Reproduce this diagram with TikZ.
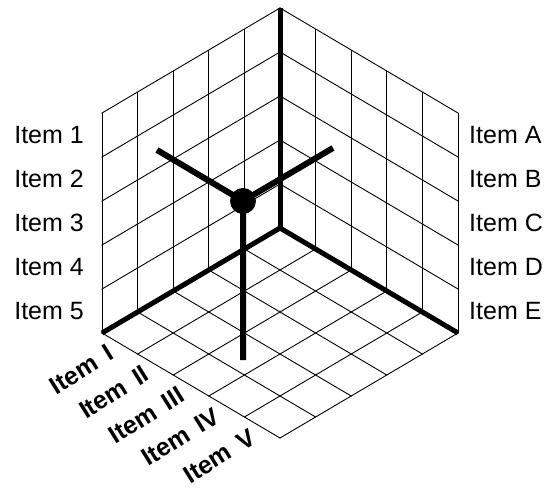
\documentclass[tikz,border=0pt]{standalone}
\usepackage{fontspec}
\setmainfont{Liberation Sans}
\begin{document}
\begin{tikzpicture}[x=1pt,y=-1pt,
  gridline/.style={line width=0.9pt,line cap=rect},
  axisline/.style={line width=5pt},
  armline/.style={line width=6pt},
  lbl/.style={inner sep=0pt,font=\fontsize{25}{25}\selectfont},
  flbl/.style={inner sep=0pt,font=\fontsize{25}{25}\selectfont\bfseries,rotate=32,anchor=east}]
\useasboundingbox (0,0) rectangle (547,490);
\fill[white] (0,0) rectangle (547,490);
% grids
\foreach \i in {0,...,5} {
  % left wall
  \draw[gridline] ({280-35.6*\i},{228+21*\i}) -- ++(0,-220);
  \draw[gridline] (280,{228-44*\i}) -- ++(-178,105);
  % right wall
  \draw[gridline] ({280+35.6*\i},{228+21*\i}) -- ++(0,-220);
  \draw[gridline] (280,{228-44*\i}) -- ++(178,105);
  % floor
  \draw[gridline] ({280+35.6*\i},{228+21*\i}) -- ++(-178,105);
  \draw[gridline] ({280-35.6*\i},{228+21*\i}) -- ++(178,105);
}
% axes
\coordinate (O) at (280,228);
\coordinate (T) at (280,8);
\coordinate (L) at (102,333);
\coordinate (R) at (458,333);
\draw[axisline] (O) -- (T);
\draw[axisline,line join=round] (L) -- (O) -- (R);
% data point
\coordinate (B) at (243,201);
\coordinate (BL) at (157,150);
\coordinate (BR) at (333,148);
\coordinate (BD) at (243,360);
\draw[armline,line join=round] (BL) -- (B) -- (BR) (B) -- (BD);
\fill (B) circle (13);
% left labels
\node[lbl,anchor=east] (l1) at (84,135) {Item 1};
\node[lbl,anchor=east] (l2) at (84,179) {Item 2};
\node[lbl,anchor=east] (l3) at (84,223) {Item 3};
\node[lbl,anchor=east] (l4) at (84,267) {Item 4};
\node[lbl,anchor=east] (l5) at (84,311) {Item 5};
% right labels
\node[lbl,anchor=west] (ra) at (469,135) {Item A};
\node[lbl,anchor=west] (rb) at (469,179) {Item B};
\node[lbl,anchor=west] (rc) at (469,223) {Item C};
\node[lbl,anchor=west] (rd) at (469,267) {Item D};
\node[lbl,anchor=west] (re) at (469,311) {Item E};
% floor labels
\node[flbl] (f1) at (111,351) {Item\, I};
\node[flbl] (f2) at (146.5,372) {Item\, II};
\node[flbl] (f3) at (182,393) {Item\, III};
\node[flbl] (f4) at (217.5,414) {Item\, IV};
\node[flbl] (f5) at (253,435) {Item\, V};
\end{tikzpicture}
\end{document}
